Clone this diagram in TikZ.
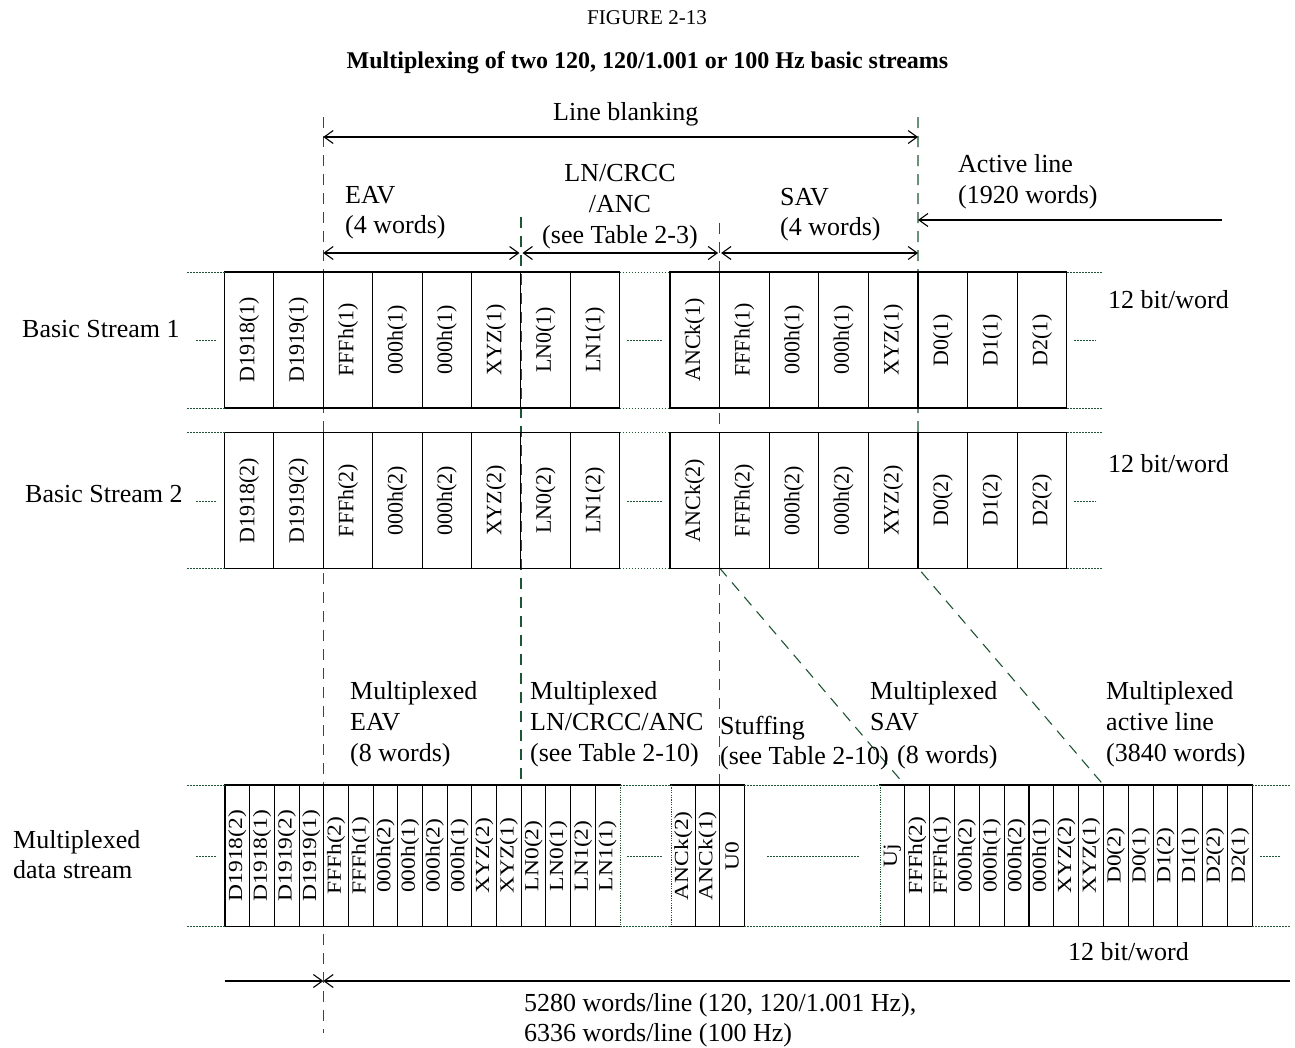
\documentclass[tikz,border=0pt]{standalone}
\usepackage{fontspec}
\usepackage{graphicx}
\setmainfont{Liberation Serif}
\usetikzlibrary{arrows.meta}
\definecolor{dgreen}{RGB}{30,85,50}
\newcommand{\narrowtext}[1]{\scalebox{1}[0.85]{#1}}
\begin{document}
\begin{tikzpicture}[x=1pt,y=-1pt,
  cellbase/.style={draw, line width=1.1pt, rotate=90, inner sep=0pt},
  scell/.style={cellbase, minimum width=136pt, minimum height=49.4pt, font=\fontsize{22}{22}\selectfont},
  scellr/.style={scell, minimum height=49.6pt},
  mcell/.style={cellbase, minimum width=141.5pt, font=\fontsize{23.5}{23.5}\selectfont},
  lbl/.style={inner sep=0pt, anchor=base west, font=\fontsize{26}{31}\selectfont},
  lblc/.style={lbl, anchor=base},
  dotline/.style={dgreen, line width=1pt, dash pattern=on 1.5pt off 1.5pt},
  dashline/.style={dgreen, line width=1.1pt, dash pattern=on 11pt off 8pt},
  barb/.tip={Straight Barb[length=9pt,width=13pt]},
  dimarrow/.style={line width=1.1pt, barb-barb},
  onearrow/.style={line width=1.1pt, -barb},
]
\useasboundingbox (0,0) rectangle (1295,1047);

% ---------- titles ----------
\node[lblc, font=\fontsize{21}{24}\selectfont] (fig) at (647,24) {FIGURE 2-13};
\node[lblc, font=\fontsize{24}{26}\selectfont\bfseries] (title) at (647.5,68) {Multiplexing of two 120, 120/1.001 or 100 Hz basic streams};

% ---------- dashed guide lines ----------
\draw[dashline] (323.3,117) -- (323.3,1033);
\draw[dashline] (521,217) -- (521,785);
\draw[dashline] (719.6,223) -- (719.6,785);
\draw[dashline] (918,117) -- (918,568) -- (1103.5,785);
\draw[dashline] (719.6,568) -- (904.8,785);

% ---------- dimension arrows ----------
\coordinate (lbL) at (323.3,137); \coordinate (lbR) at (918,137);
\draw[dimarrow] (lbL) -- (lbR);
\coordinate (eL) at (323.3,253); \coordinate (eR) at (519.5,253);
\draw[dimarrow] (eL) -- (eR);
\coordinate (nL) at (522.5,253); \coordinate (nR) at (718.1,253);
\draw[dimarrow] (nL) -- (nR);
\coordinate (sL) at (721.1,253); \coordinate (sR) at (918,253);
\draw[dimarrow] (sL) -- (sR);
\coordinate (aR) at (1222,220); \coordinate (aL) at (918,220);
\draw[onearrow] (aR) -- (aL);

% ---------- upper labels ----------
\node[lbl] (tlb) at (553,120) {Line blanking};
\node[lbl] (teav1) at (345,203) {EAV};
\node[lbl] (teav2) at (345,233) {(4 words)};
\node[lblc] (tln1) at (620,181.5) {LN/CRCC};
\node[lblc] (tln2) at (620,212) {/ANC};
\node[lblc] (tln3) at (620,243) {(see Table 2-3)};
\node[lbl] (tsav1) at (780,205) {SAV};
\node[lbl] (tsav2) at (780,235) {(4 words)};
\node[lbl] (tact1) at (958,172) {Active line};
\node[lbl] (tact2) at (958,203) {(1920 words)};

% ---------- basic stream 1 ----------
\foreach \t [count=\i] in {D1918(1),D1919(1),FFFh(1),000h(1),000h(1),XYZ(1),LN0(1),LN1(1)}
  \node[scell] (sa\i) at ({249.2+(\i-1)*49.4},340) {\t};
\foreach \t [count=\i] in {ANCk(1),FFFh(1),000h(1),000h(1),XYZ(1),D0(1),D1(1),D2(1)}
  \node[scellr] (sb\i) at ({694.8+(\i-1)*49.6},340) {\t};

% ---------- basic stream 2 ----------
\foreach \t [count=\i] in {D1918(2),D1919(2),FFFh(2),000h(2),000h(2),XYZ(2),LN0(2),LN1(2)}
  \node[scell] (sc\i) at ({249.2+(\i-1)*49.4},500.5) {\t};
\foreach \t [count=\i] in {ANCk(2),FFFh(2),000h(2),000h(2),XYZ(2),D0(2),D1(2),D2(2)}
  \node[scellr] (sd\i) at ({694.8+(\i-1)*49.6},500.5) {\t};

% dotted continuations, streams
\foreach \yt/\ym/\yb in {272/340/408, 432.5/501/568.5}{
  \draw[dotline] (187,\yt) -- (224.5,\yt);
  \draw[dotline] (187,\yb) -- (224.5,\yb);
  \draw[dotline] (619.7,\yt) -- (670,\yt);
  \draw[dotline] (619.7,\yb) -- (670,\yb);
  \draw[dotline] (1067,\yt) -- (1103,\yt);
  \draw[dotline] (1067,\yb) -- (1103,\yb);
  \draw[dotline] (196,\ym) -- (216,\ym);
  \draw[dotline] (627,\ym) -- (662,\ym);
  \draw[dotline] (1074,\ym) -- (1096,\ym);
}

\node[lbl] (tbs1) at (22,337) {Basic Stream 1};
\node[lbl] (tbs2) at (25,502) {Basic Stream 2};
\node[lbl] (tbw1) at (1108,308) {12 bit/word};
\node[lbl] (tbw2) at (1108,472) {12 bit/word};

% ---------- multiplexed labels ----------
\node[lbl] (tme1) at (350,699) {Multiplexed};
\node[lbl] (tme2) at (350,730) {EAV};
\node[lbl] (tme3) at (350,761) {(8 words)};
\node[lbl] (tml1) at (530,699) {Multiplexed};
\node[lbl] (tml2) at (530,730) {LN/CRCC/ANC};
\node[lbl] (tml3) at (530,761) {(see Table 2-10)};
\node[lbl] (tst1) at (720,734) {Stuffing};
\node[lbl] (tst2) at (720,764) {(see Table 2-10)};
\node[lbl] (tms1) at (870,699) {Multiplexed};
\node[lbl] (tms2) at (870,730) {SAV};
\node[lbl] (tms3) at (897,763) {(8 words)};
\node[lbl] (tma1) at (1106,699) {Multiplexed};
\node[lbl] (tma2) at (1106,730) {active line};
\node[lbl] (tma3) at (1106,761) {(3840 words)};

% ---------- multiplexed data stream ----------
\foreach \t [count=\i] in {D1918(2),D1918(1),D1919(2),D1919(1),FFFh(2),FFFh(1),000h(2),000h(1),000h(2),000h(1),XYZ(2),XYZ(1),LN0(2),LN0(1),LN1(2),LN1(1)}
  \node[mcell, minimum height=24.69pt] (ma\i) at ({225+12.344+(\i-1)*24.6875},855.75) {\narrowtext{\t}};
\foreach \t [count=\i] in {ANCk(2),ANCk(1),U0}
  \node[mcell, minimum height=24.4pt] (mb\i) at ({671+12.2+(\i-1)*24.4},855.75) {\narrowtext{\t}};
\foreach \t [count=\i] in {Uj,FFFh(2),FFFh(1),000h(2),000h(1),000h(2),000h(1),XYZ(2),XYZ(1),D0(2),D0(1),D1(2),D1(1),D2(2),D2(1)}
  \node[mcell, minimum height=24.83pt] (mc\i) at ({880+12.415+(\i-1)*24.827},855.75) {\narrowtext{\t}};

% dotted edges at the gaps
\foreach \xx in {620,671,880}{
  \draw[white, line width=1.8pt] (\xx,786) -- (\xx,925.5);
  \draw[dgreen, line width=0.8pt, dash pattern=on 1.2pt off 1.2pt] (\xx,785) -- (\xx,926.5);
}
\foreach \yy in {785,926.5}{
  \draw[dotline] (187,\yy) -- (225,\yy);
  \draw[dotline] (620,\yy) -- (671,\yy);
  \draw[dotline] (744.2,\yy) -- (880,\yy);
  \draw[dotline] (1252.4,\yy) -- (1290,\yy);
}
\draw[dotline] (196,856) -- (216,856);
\draw[dotline] (627,856) -- (662,856);
\draw[dotline] (767,856) -- (859,856);
\draw[dotline] (1260,856) -- (1281,856);

\node[lbl] (tmd1) at (13,848) {Multiplexed};
\node[lbl] (tmd2) at (13,878) {data stream};
\node[lbl] (tbw3) at (1068,960) {12 bit/word};

% ---------- words per line ----------
\coordinate (wl) at (224.5,981);
\coordinate (wm) at (323.3,981);
\coordinate (wr) at (1290,981);
\draw[onearrow] (wl) -- (wm);
\draw[onearrow] (wr) -- (wm);
\node[lbl] (twl1) at (524,1011) {5280 words/line (120, 120/1.001 Hz),};
\node[lbl] (twl2) at (524,1041) {6336 words/line (100 Hz)};
\end{tikzpicture}
\end{document}
